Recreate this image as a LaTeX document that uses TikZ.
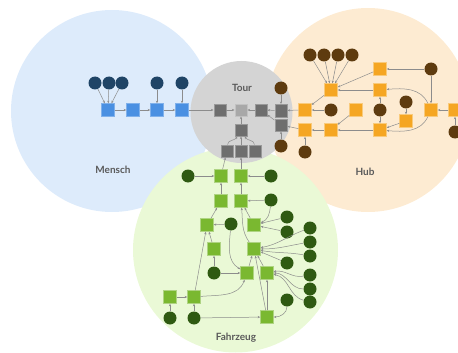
\documentclass[tikz,border=0pt]{standalone}
\usepackage{fontspec}
\setsansfont{Lato}
\usetikzlibrary{arrows.meta}
\definecolor{blueBg}{HTML}{DDEBFB}
\definecolor{greyBg}{HTML}{D4D4D4}
\definecolor{orangeBg}{HTML}{FDEBD2}
\definecolor{greenBg}{HTML}{EAF9D6}
\definecolor{blueSq}{HTML}{4A90E2}
\definecolor{blueCi}{HTML}{1F4466}
\definecolor{greySq}{HTML}{6E6E6E}
\definecolor{greyLt}{HTML}{A8A8A8}
\definecolor{orangeSq}{HTML}{F5A623}
\definecolor{brownCi}{HTML}{5E3B0F}
\definecolor{greenSq}{HTML}{7AB830}
\definecolor{greenCi}{HTML}{2F5A12}
\definecolor{lineC}{HTML}{8C8C8C}
\definecolor{labelC}{HTML}{5A5A5A}
\tikzset{
  sqbox/.style={rectangle, minimum size=13pt, inner sep=0pt, line width=0.4pt},
  bsq/.style={sqbox, fill=blueSq, draw=blueSq!70!white},
  gsq/.style={sqbox, minimum size=12.5pt, fill=greySq, draw=greySq!70!white},
  osq/.style={sqbox, fill=orangeSq, draw=orangeSq!60!white},
  nsq/.style={sqbox, fill=greenSq, draw=greenSq!60!white},
  cir/.style={circle, minimum size=13pt, inner sep=0pt},
  bci/.style={cir, fill=blueCi},
  oci/.style={cir, fill=brownCi},
  nci/.style={cir, fill=greenCi},
  arr/.style={-{Stealth[length=2.6pt,width=2.2pt]}, draw=lineC, line width=0.5pt},
  biglabel/.style={font=\sffamily\bfseries\fontsize{10}{12}\selectfont, text=labelC}
}
\begin{document}
\begin{tikzpicture}[x=1pt,y=-1pt]
\useasboundingbox (0,0) rectangle (458,353);
\clip (0,0) rectangle (458,353);
% background circles
\fill[blueBg] (112,111) circle[radius=101];
\fill[orangeBg] (368,110) circle[radius=102];
\fill[greenBg] (235.5,250) circle[radius=102.5];
\fill[greyBg] (241.5,112) circle[radius=51];
\node[biglabel] (lmensch) at (113,170) {Mensch};
\node[biglabel] (ltour) at (242,88) {Tour};
\node[biglabel] (lhub) at (365,172) {Hub};
\node[biglabel] (lfahr) at (236,338) {Fahrzeug};
% blue
\node[bsq] (b1) at (108,110) {};
\node[bsq] (b2) at (133,110) {};
\node[bsq] (b3) at (157,110) {};
\node[bsq] (b4) at (182,110) {};
\node[bci] (bc1) at (95,83) {};
\node[bci] (bc2) at (109,83) {};
\node[bci] (bc3) at (122,83) {};
\node[bci] (bc4) at (157,83) {};
\node[bci] (bc5) at (182,83) {};
% grey
\node[gsq] (g1) at (220,110) {};
\node[gsq, fill=greyLt, draw=greyLt!70!white] (g2) at (241,110) {};
\node[gsq] (g3) at (261,110) {};
\node[gsq] (g4) at (281,110.5) {};
\node[gsq] (g5) at (281,125) {};
\node[gsq] (g6) at (241,130) {};
\node[gsq] (g7) at (227,151) {};
\node[gsq] (g8) at (241,151) {};
\node[gsq] (g9) at (255,151) {};
\node[oci] (bt1) at (281,88) {};
\node[oci] (bt2) at (281,146) {};
% orange
\node[osq] (oa) at (305,110) {};
\node[osq] (ob) at (305,130) {};
\node[osq] (oc) at (331,90) {};
\node[osq] (od) at (356,110) {};
\node[osq] (oe) at (331,130) {};
\node[osq] (of) at (380,69) {};
\node[osq] (og) at (380,90) {};
\node[osq] (oh) at (380,130) {};
\node[osq] (oi) at (406,121) {};
\node[osq] (oj) at (431,110) {};
\node[osq] (ok) at (455,110) {};
\node[oci] (br1) at (310,55) {};
\node[oci] (br2) at (324,55) {};
\node[oci] (br3) at (338,55) {};
\node[oci] (br4) at (352,55) {};
\node[oci] (br5) at (331,110) {};
\node[oci] (br6) at (305,152) {};
\node[oci] (br7) at (380,110) {};
\node[oci] (br8) at (406,102) {};
\node[oci] (br9) at (431,69) {};
\node[oci] (br10) at (455,132) {};
% green
\node[nsq] (ga) at (221,176) {};
\node[nsq] (gb) at (241,176) {};
\node[nsq] (gc) at (221,201) {};
\node[nsq] (gd) at (241,201) {};
\node[nsq] (ge) at (207,225) {};
\node[nsq] (gf) at (254,225) {};
\node[nsq] (gg) at (214,249) {};
\node[nsq] (gh) at (254,249) {};
\node[nsq] (gi) at (247,273) {};
\node[nsq] (gj) at (267,273) {};
\node[nsq] (gk) at (267,317) {};
\node[nsq] (gl) at (170,297) {};
\node[nsq] (gm) at (194,297) {};
\node[nci] (dc1) at (188,176) {};
\node[nci] (dc2) at (271,176) {};
\node[nci] (dc3) at (271,200) {};
\node[nci] (dc4) at (231,224) {};
\node[nci] (dc5) at (287,217) {};
\node[nci] (dc6) at (287,232) {};
\node[nci] (dc7) at (310,228) {};
\node[nci] (dc8) at (310,242) {};
\node[nci] (dc9) at (310,256) {};
\node[nci] (dc10) at (287,263) {};
\node[nci] (dc11) at (214,273) {};
\node[nci] (dc12) at (310,275) {};
\node[nci] (dc13) at (310,289) {};
\node[nci] (dc14) at (310,302) {};
\node[nci] (dc15) at (287,300) {};
\node[nci] (dc16) at (170,318) {};
\node[nci] (dc17) at (194,318) {};
% blue edges
\foreach \c in {bc1,bc2,bc3} \draw[arr] (\c) -- (b1);
\draw[arr] (bc4) -- (b3);
\draw[arr] (bc5) -- (b4);
\draw[arr] (b1) -- (b2);
\draw[arr] (b2) -- (b3);
\draw[arr] (b3) -- (b4);
\draw[arr] (b4) -- (g1);
% grey edges
\draw[arr] (g1) -- (g2);
\draw[arr] (g3) -- (g2);
\draw[arr] (g4) -- (g3);
\draw[arr] (g5) -- (g3);
\draw[arr] (g6) -- (g2);
\draw[arr] (g7) to[out=85,in=-120] (g6);
\draw[arr] (g8) -- (g6);
\draw[arr] (g9) to[out=95,in=-60] (g6);
\draw[arr] (bt1) -- (g4);
\draw[arr] (bt2) -- (g5);
\draw[arr] (oa) -- (g4);
\draw[arr] (ob) -- (g5);
% orange edges
\foreach \c in {br1,br2,br3,br4} \draw[arr] (\c) -- (oc);
\draw[arr] (of) -- (oc);
\draw[arr] (og) -- (oc);
\draw[arr] (br9) -- (of);
\draw[arr] (br9) -- (oj);
\draw[arr] (oc) -- (oa);
\draw[arr] (br5) -- (oa);
\draw[arr] (od) -- (oe);
\draw[arr] (oe) -- (ob);
\draw[arr] (oh) -- (oe);
\draw[arr] (br7) -- (og);
\draw[arr] (br7) -- (oh);
\draw[arr] (br8) -- (oi);
\draw[arr] (oi) -- (oh);
\draw[arr] (oj) to[out=115,in=5] (og);
\draw[arr] (oj) to[out=-115,in=-5] (oh);
\draw[arr] (ok) -- (oj);
\draw[arr] (br10) -- (ok);
\draw[arr] (br6) -- (ob);
% green edges
\draw[arr] (dc1) -- (ga);
\draw[arr] (dc2) -- (gb);
\draw[arr] (ga) -- (g7);
\draw[arr] (gb) -- (g8);
\draw[arr] (gc) -- (ga);
\draw[arr] (gd) -- (gb);
\draw[arr] (dc3) -- (gd);
\draw[arr] (dc3) to[out=-95,in=20] (gf);
\draw[arr] (ge) -- (gc);
\draw[arr] (gf) -- (gd);
\draw[arr] (dc4) -- (ge);
\draw[arr] (dc5) -- (gf);
\draw[arr] (dc6) -- (gf);
\draw[arr] (gg) -- (ge);
\draw[arr] (gh) to[out=125,in=-85] (gd);
\draw[arr] (dc7) to[out=200,in=10] (gh.12);
\draw[arr] (dc8) to[out=190,in=0] (gh.0);
\draw[arr] (dc9) to[out=170,in=-10] (gh.-12);
\draw[arr] (dc10) -- (gh);
\draw[arr] (dc11) -- (gg);
\draw[arr] (dc11) -- (gi);
\draw[arr] (dc4) to[out=-95,in=150] (gi);
\draw[arr] (gi) -- (gh);
\draw[arr] (gj) -- (gh);
\draw[arr] (dc12) to[out=190,in=10] (gj.12);
\draw[arr] (dc13) to[out=180,in=0] (gj.0);
\draw[arr] (dc14) to[out=165,in=-10] (gj.-12);
\draw[arr] (dc15) to[out=-90,in=0] (gk);
\draw[arr] (gk) -- (gj);
\draw[arr] (gk) -- (gh);
\draw[arr] (dc16) -- (gl);
\draw[arr] (dc17) -- (gm);
\draw[arr] (gl) -- (gm);
\draw[arr] (gm) to[out=5,in=-110] (gi);
\draw[arr] (gm) -- (ge);
\draw[arr] (dc17) -- (gk);
\end{tikzpicture}
\end{document}
